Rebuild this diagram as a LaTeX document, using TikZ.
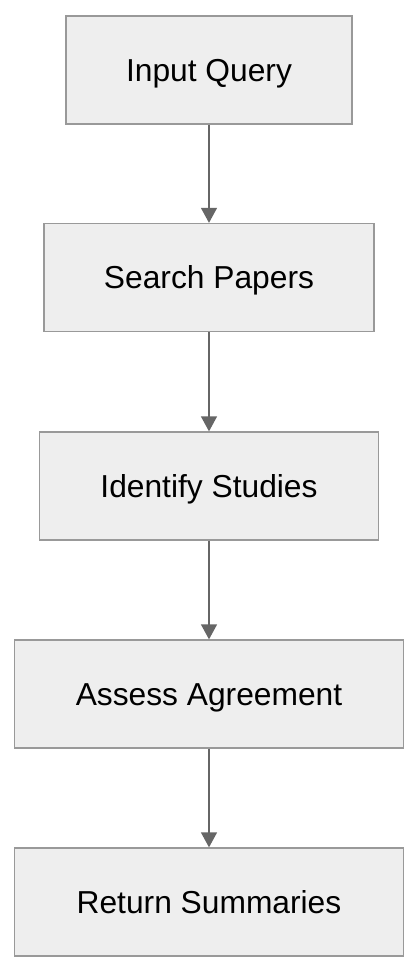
\documentclass[tikz,border=0pt]{standalone}
\usepackage{fontspec}
\setmainfont{Liberation Sans}
\usepackage{tikz}
\usetikzlibrary{arrows.meta}

\definecolor{boxfill}{HTML}{EEEEEE}
\definecolor{boxline}{HTML}{999999}
\definecolor{arrowline}{HTML}{666666}

\begin{document}
\begin{tikzpicture}[
    x=1pt, y=1pt,
    every node/.style={font=\fontsize{31.75}{38}\selectfont},
    stage/.style={draw=boxline, fill=boxfill, line width=1.3pt, inner xsep=60pt,
        minimum height=108pt, text height=22.7pt, text depth=0pt},
    flow/.style={draw=arrowline, line width=1.3pt, -{Triangle[length=15pt,width=16pt]}}
]
\useasboundingbox (0,0) rectangle (418,-972);

% Pipeline stages
\node[stage] (b1) at (209,-70)  {Input Query};
\node[stage] (b2) at (209,-277.5) {Search Papers};
\node[stage, minimum width=339pt] (b3) at (209,-486) {Identify Studies};
\node[stage, minimum width=389pt] (b4) at (209,-694) {Assess Agreement};
\node[stage, minimum width=389pt] (b5) at (209,-902) {Return Summaries};

% Arrows
\draw[flow] (b1) -- (b2);
\draw[flow] (b2) -- (b3);
\draw[flow] (b3) -- (b4);
\draw[flow] (b4) -- (b5);

\end{tikzpicture}
\end{document}
